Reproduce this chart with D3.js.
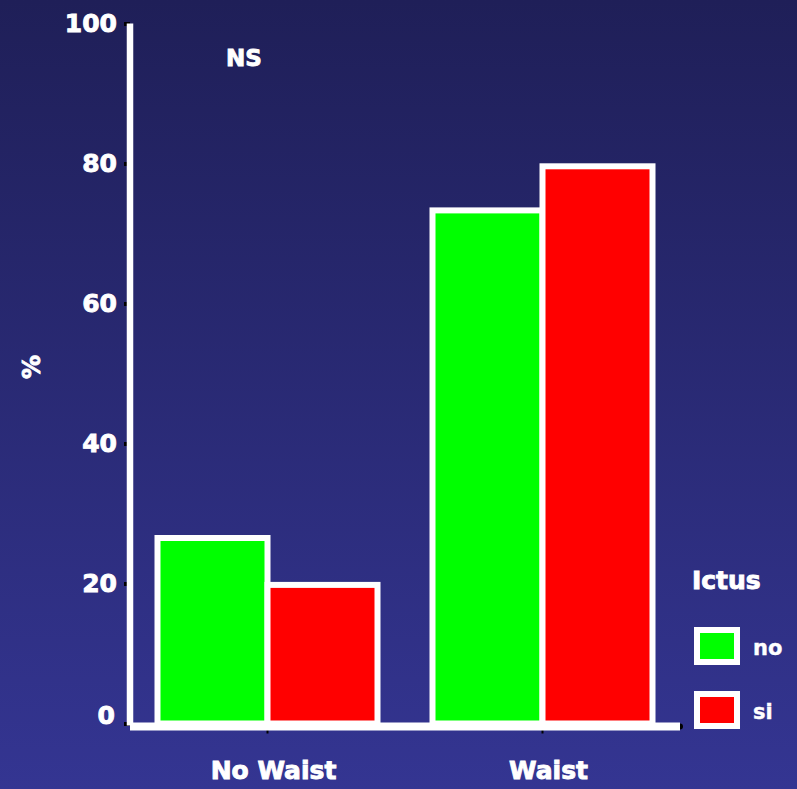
<html lang="en">
<head>
  <meta charset="UTF-8">
  <title>Ictus by Waist</title>
  <script src="https://d3js.org/d3.v7.min.js"></script>
</head>
<style>
  body { margin: 0; background: #2a2a78; }
  text { font-family: "DejaVu Sans", sans-serif; font-weight: bold; fill: #fff; stroke: #fff; stroke-width: 0.9px; }
  text.small { stroke-width: 0.4px; }
</style>
<body>
  <svg class="chart" width="797" height="789"></svg>
  <script>
    // data
    const groups = ['No Waist', 'Waist'];
    const series = ['no', 'si'];
    const valuesNo = [26.5, 73.3];
    const valuesSi = [19.8, 79.6];
    const yTicks = [0, 20, 40, 60, 80, 100];
    const colors = ['#00ff00', '#ff0000'];

    const svg = d3.select('svg.chart');
    const width = +svg.attr('width');
    const height = +svg.attr('height');
    const margins = { top: 23.5, left: 130, right: 117, bottom: 65.5 };
    const chartWidth = width - margins.left - margins.right;
    const chartHeight = height - margins.top - margins.bottom;

    // background gradient
    const grad = svg.append('defs').append('linearGradient')
      .attr('id', 'bg').attr('x1', 0).attr('y1', 0).attr('x2', 0).attr('y2', 1);
    grad.append('stop').attr('offset', '0%').attr('stop-color', '#1f1f58');
    grad.append('stop').attr('offset', '100%').attr('stop-color', '#343592');
    svg.append('rect').attr('width', width).attr('height', height).attr('fill', 'url(#bg)');

    const x0 = d3.scaleBand().domain(groups)
      .range([margins.left, margins.left + chartWidth])
      .paddingInner(0.2).paddingOuter(0.1);
    const x1 = d3.scaleBand().domain(series).range([0, x0.bandwidth()]);
    const y = d3.scaleLinear().domain([0, 100]).range([margins.top + chartHeight, margins.top]);

    const rows = groups.map((g, i) => ({ group: g, vals: [valuesNo[i], valuesSi[i]] }));

    // bars
    const gBars = svg.append('g');
    rows.forEach(r => {
      r.vals.forEach((v, j) => {
        gBars.append('rect')
          .attr('x', x0(r.group) + x1(series[j]))
          .attr('y', y(v))
          .attr('width', x1.bandwidth())
          .attr('height', y(0) - y(v))
          .attr('fill', colors[j])
          .attr('stroke', '#fff')
          .attr('stroke-width', 6);
      });
    });

    // y axis
    const yAxis = d3.axisLeft(y).tickValues(yTicks).tickSize(6).tickPadding(7);
    const gy = svg.append('g')
      .attr('transform', `translate(${margins.left},0)`)
      .call(yAxis);
    gy.select('.domain').remove();
    gy.selectAll('.tick line').attr('stroke', '#000').attr('stroke-width', 4);
    gy.selectAll('.tick text')
      .attr('fill', '#fff').attr('font-size', 25)
      .attr('dy', d => d === 0 ? '0' : '0.3em')
      .attr('dx', d => d === 0 ? -2 : 0)
      .style('font-family', '"DejaVu Sans", sans-serif').style('font-weight', 'bold');

    // x axis
    const xAxis = d3.axisBottom(x0).tickSize(4).tickPadding(30);
    const gx = svg.append('g')
      .attr('transform', `translate(0,${y(0) + 6})`)
      .call(xAxis);
    gx.select('.domain').remove();
    gx.selectAll('.tick line').attr('stroke', '#000').attr('stroke-width', 2);
    gx.selectAll('.tick text')
      .attr('fill', '#fff').attr('font-size', 25).attr('dx', 6).attr('dy', '0.6em')
      .style('font-family', '"DejaVu Sans", sans-serif').style('font-weight', 'bold');
    svg.append('circle').attr('cx', margins.left + chartWidth).attr('cy', y(0) + 3)
      .attr('r', 3).attr('fill', '#000');

    // white axis lines
    svg.append('line')
      .attr('x1', margins.left).attr('x2', margins.left)
      .attr('y1', y(100)).attr('y2', y(0) + 2)
      .attr('stroke', '#fff').attr('stroke-width', 6.5);
    svg.append('line')
      .attr('x1', margins.left).attr('x2', margins.left + chartWidth)
      .attr('y1', y(0) + 3).attr('y2', y(0) + 3)
      .attr('stroke', '#fff').attr('stroke-width', 8);

    // labels
    svg.append('text')
      .attr('transform', 'translate(40,367) rotate(-90)')
      .attr('text-anchor', 'middle').attr('font-size', 24)
      .text('%');
    svg.append('text')
      .attr('x', 244).attr('y', 66)
      .attr('text-anchor', 'middle').attr('font-size', 23)
      .text('NS');

    // legend
    const legend = svg.append('g');
    legend.append('text').attr('x', 692).attr('y', 589).attr('font-size', 25).text('Ictus');
    series.forEach((s, j) => {
      const ly = 630 + j * 64;
      legend.append('rect')
        .attr('x', 697).attr('y', ly).attr('width', 40).attr('height', 32)
        .attr('fill', colors[j]).attr('stroke', '#fff').attr('stroke-width', 6);
      legend.append('text')
        .attr('class', 'small')
        .attr('x', 753).attr('y', ly + 18).attr('dy', '0.35em')
        .attr('font-size', 21).text(s);
    });
  </script>
</body>
</html>
